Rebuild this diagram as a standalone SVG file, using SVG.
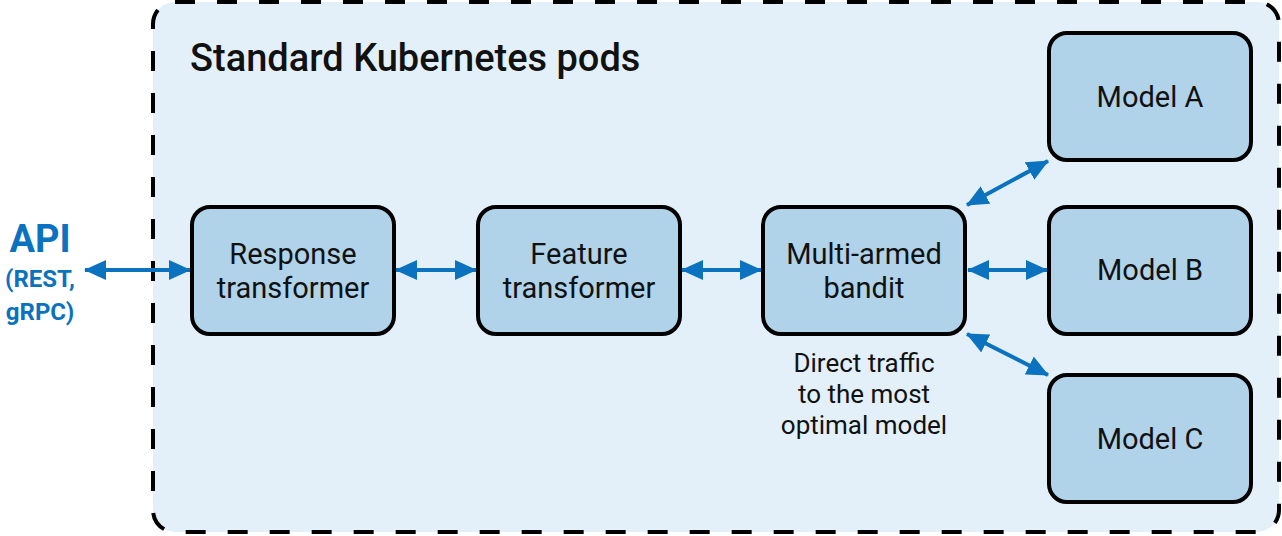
<svg xmlns="http://www.w3.org/2000/svg" width="1282" height="536" viewBox="0 0 1282 536">
<defs>
<style>
.node rect{fill:#b0d3ea;stroke:#000;stroke-width:4}
.node text{font-family:Roboto,"Liberation Sans",sans-serif;font-size:29px;fill:#111;text-anchor:middle}
.lbl{font-family:Roboto,"Liberation Sans",sans-serif;font-size:26px;fill:#111;text-anchor:middle}
.conn line{stroke:#0a72be;stroke-width:4}
.api{font-family:Roboto,"Liberation Sans",sans-serif;fill:#0a72be;font-weight:700;text-anchor:middle}
</style>
<marker id="ah" viewBox="0 0 22 20" refX="21" refY="10" markerWidth="22" markerHeight="20" markerUnits="userSpaceOnUse" orient="auto-start-reverse">
<path d="M0,0 L22,10 L0,20 Z" fill="#0a72be"/>
</marker>
</defs>
<rect width="1282" height="536" fill="#fff"/>
<g id="pods">
<rect x="153" y="2" width="1126" height="530" rx="22" fill="#e3f0f9" stroke="#000" stroke-width="4" stroke-dasharray="20 22"/>
<text x="190" y="71" font-family="Roboto,'Liberation Sans',sans-serif" font-size="38" font-weight="500" fill="#111">Standard Kubernetes pods</text>
</g>
<g id="api">
<text class="api" x="40" y="252" font-size="38">API</text>
<text class="api" x="40" y="287" font-size="24">(REST,</text>
<text class="api" x="40" y="320" font-size="24">gRPC)</text>
</g>
<g class="conn" id="connectors">
<line x1="85" y1="270" x2="190" y2="270" marker-start="url(#ah)" marker-end="url(#ah)"/>
<line x1="396" y1="270" x2="476" y2="270" marker-start="url(#ah)" marker-end="url(#ah)"/>
<line x1="682" y1="270" x2="761" y2="270" marker-start="url(#ah)" marker-end="url(#ah)"/>
<line x1="968" y1="270" x2="1047" y2="270" marker-start="url(#ah)" marker-end="url(#ah)"/>
<line x1="967" y1="205" x2="1048" y2="161" marker-start="url(#ah)" marker-end="url(#ah)"/>
<line x1="967" y1="334" x2="1048" y2="375" marker-start="url(#ah)" marker-end="url(#ah)"/>
</g>
<g class="node" id="response">
<rect x="192" y="207" width="202" height="127" rx="18"/>
<text x="293" y="264">Response</text>
<text x="293" y="298">transformer</text>
</g>
<g class="node" id="feature">
<rect x="478" y="207" width="202" height="127" rx="18"/>
<text x="579" y="264">Feature</text>
<text x="579" y="298">transformer</text>
</g>
<g class="node" id="bandit">
<rect x="763" y="207" width="202" height="127" rx="18"/>
<text x="864" y="264">Multi-armed</text>
<text x="864" y="298">bandit</text>
</g>
<g class="node" id="modelA">
<rect x="1049" y="33" width="202" height="127" rx="18"/>
<text x="1150" y="107">Model A</text>
</g>
<g class="node" id="modelB">
<rect x="1049" y="207" width="202" height="127" rx="18"/>
<text x="1150" y="280">Model B</text>
</g>
<g class="node" id="modelC">
<rect x="1049" y="375" width="202" height="127" rx="18"/>
<text x="1150" y="449">Model C</text>
</g>
<g id="note">
<text class="lbl" x="864" y="372">Direct traffic</text>
<text class="lbl" x="864" y="403">to the most</text>
<text class="lbl" x="864" y="434">optimal model</text>
</g>
</svg>
